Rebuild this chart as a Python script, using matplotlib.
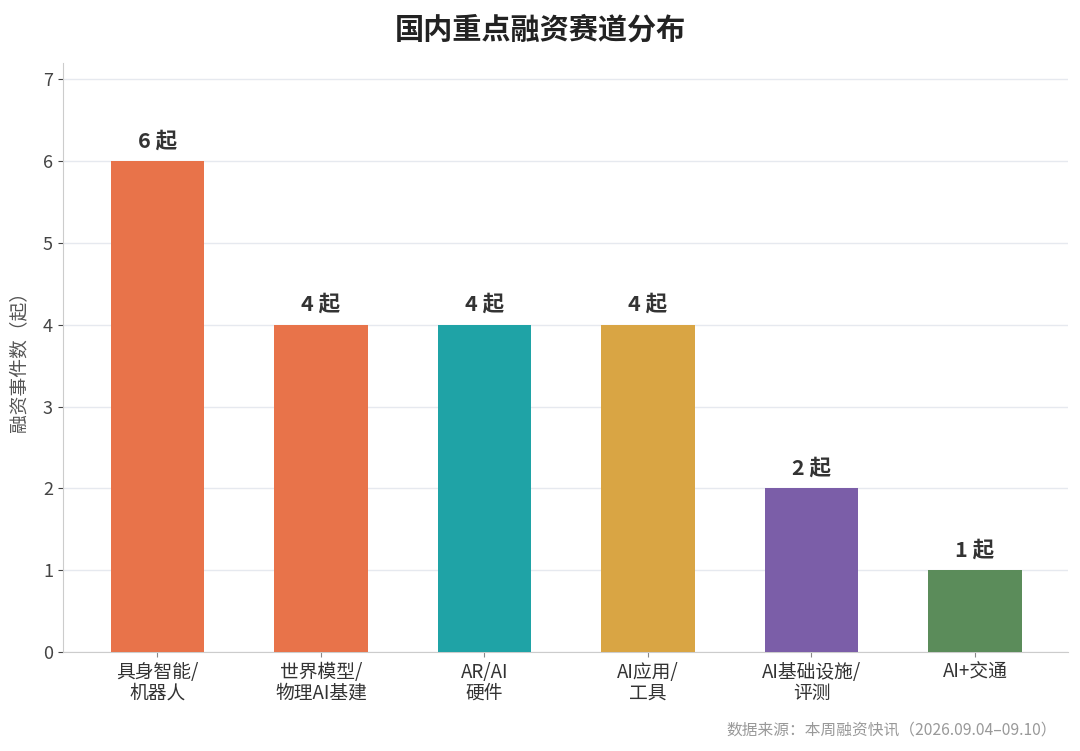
import matplotlib
matplotlib.use("Agg")
import matplotlib.pyplot as plt

plt.rcParams['font.family'] = ['Noto Sans CJK SC', 'DejaVu Sans']

# data
categories = ["具身智能/\n机器人", "世界模型/\n物理AI基建", "AR/AI\n硬件", "AI应用/\n工具", "AI基础设施/\n评测", "AI+交通"]
counts = [6, 4, 4, 4, 2, 1]
colors = ["#E8734A", "#E8734A", "#1FA3A6", "#D9A544", "#7B5EA8", "#5B8C5A"]

fig, ax = plt.subplots(figsize=(10.8, 7.51), dpi=100)
fig.subplots_adjust(left=0.058, right=0.989, top=0.916, bottom=0.132)

x = range(len(categories))
bars = ax.bar(x, counts, width=0.57, color=colors, zorder=3)

for b, v in zip(bars, counts):
    ax.text(b.get_x() + b.get_width() / 2, v + 0.12, f"{v} 起",
            ha='center', va='bottom', fontsize=15.5, fontweight='bold', color='#333333')

ax.set_xticks(list(x))
ax.set_xticklabels(categories, fontsize=13.5, color='#333333', linespacing=1.0)
ax.set_ylim(0, 7.2)
ax.set_xlim(-0.58, 5.57)
ax.set_yticks(range(0, 8))
ax.tick_params(axis='y', labelsize=13, colors='#444444')
ax.tick_params(axis='x', colors='#888888', labelcolor='#333333')
ax.set_ylabel("融资事件数（起）", fontsize=13.5, color='#555555', labelpad=10)

ax.grid(axis='y', color='#E6E9EF', linewidth=1, zorder=0)
for s in ['top', 'right']:
    ax.spines[s].set_visible(False)
for s in ['left', 'bottom']:
    ax.spines[s].set_color('#CCCCCC')

fig.suptitle("国内重点融资赛道分布", fontsize=21, fontweight='bold', color='#222222', y=0.98)
fig.text(0.979, 0.016, "数据来源：本周融资快讯（2026.09.04–09.10）",
         ha='right', va='bottom', fontsize=11.3, color='#999999')

fig.savefig("out.png", dpi=100)
